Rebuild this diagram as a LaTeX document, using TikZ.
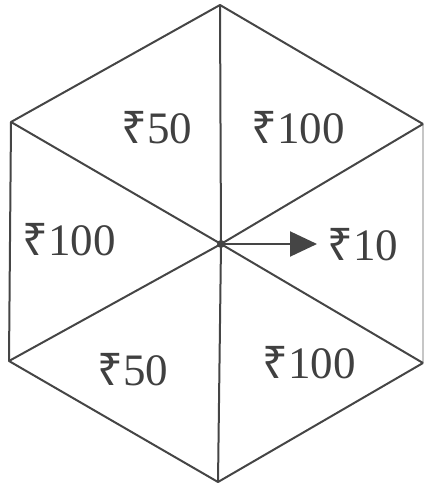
\documentclass[tikz,border=0pt]{standalone}
\usepackage{fontspec}
\setmainfont{Liberation Serif}
\newfontfamily\rupeefont{Noto Sans}
\usetikzlibrary{arrows.meta}
\definecolor{edgegray}{rgb}{0.27,0.27,0.27}
\definecolor{textgray}{rgb}{0.25,0.25,0.25}
\newcommand{\rs}{{\rupeefont ₹}}

\begin{document}
\begin{tikzpicture}[x=0.5pt,y=-0.5pt,
   edge/.style={draw=edgegray,line width=1pt,line join=round},
   prize/.style={text=textgray,font=\fontsize{22.5}{22.5}\selectfont,inner sep=0pt}]
  \useasboundingbox (0,0) rectangle (425,486);
  % hexagon corners and centre
  \coordinate (top) at (220,5);
  \coordinate (ul) at (11,122);
  \coordinate (ll) at (9,361);
  \coordinate (bot) at (218,482);
  \coordinate (lr) at (423,363);
  \coordinate (ur) at (423,124);
  \coordinate (ctr) at (221,244);
  \coordinate (tip) at (317,244);
  \draw[edge] (ur) -- (top) -- (ul) -- (ll) -- (bot) -- (lr);
  \draw[draw=gray!45,line width=0.6pt] (lr) -- (ur);
  \foreach \v in {top,ul,ll,bot,lr,ur}
    \draw[edge] (ctr) -- (\v);
  \fill[edgegray] (ctr) circle (4);
  \draw[edge,-{Triangle[length=13.5pt,width=12.5pt]}] (ctr) -- (tip);
  % prizes
  \node[prize] (p1) at (157,128) {\rs50};
  \node[prize] (p2) at (298,128) {\rs100};
  \node[prize] (p3) at (69,240) {\rs100};
  \node[prize] (p4) at (363,245) {\rs10};
  \node[prize] (p5) at (133,370) {\rs50};
  \node[prize] (p6) at (309,363) {\rs100};
\end{tikzpicture}
\end{document}
